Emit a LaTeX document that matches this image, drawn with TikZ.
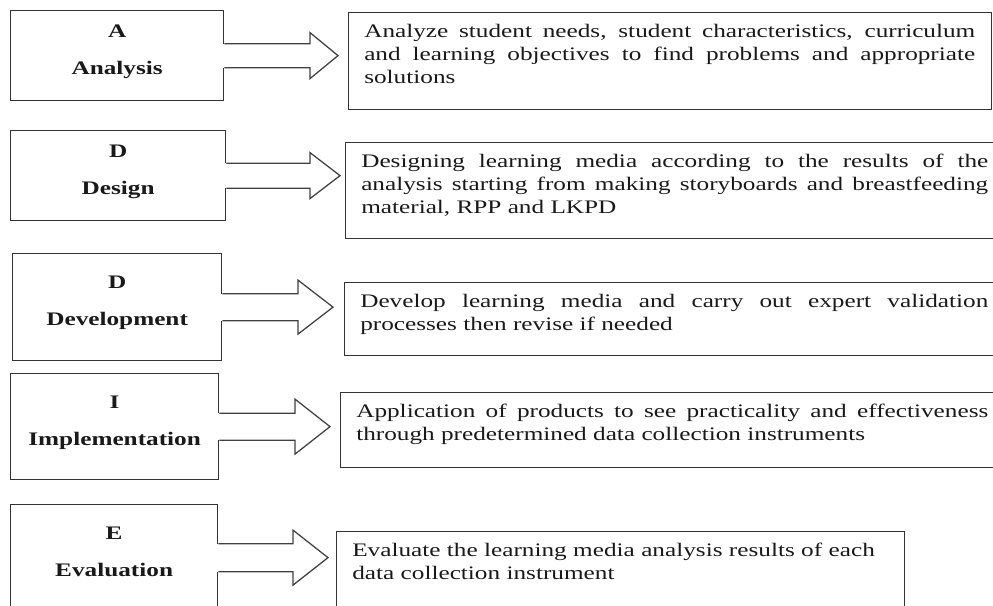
\documentclass[tikz,border=0pt]{standalone}
\usepackage{fontspec}
\setmainfont{Liberation Serif}[FakeStretch=1.32]
\usetikzlibrary{calc, positioning}

\tikzset{
  stagebox/.style 2 args={draw=black!80, line width=0.9pt, anchor=north west,
    inner sep=0pt, minimum width=#1cm, minimum height=#2cm},
  stagelabel/.style={font=\bfseries\fontsize{13.6}{26.2}\selectfont, align=center,
    text=black!90, inner sep=0pt},
  tasktext/.style={font=\fontsize{13.6}{16.4}\selectfont, align=justify,
    text=black!90, anchor=north west, inner sep=0pt},
  flowarrow/.style={draw=black!75, line width=0.9pt}
}

% block arrow out of a stage box: src, dst, shaft half, head half, head length, gap
\newcommand{\stagearrow}[6]{%
  \fill[white] ($(#1.east)+(-0.05,#3)$) rectangle ($(#1.east)+(0.05,-#3)$);
  \draw[flowarrow] let \p1=(#1.east), \p2=(#2.west) in
    (\x1,\y1+#3cm) -- (\x2-#6cm-#5cm,\y1+#3cm) -- (\x2-#6cm-#5cm,\y1+#4cm)
    -- (\x2-#6cm,\y1) -- (\x2-#6cm-#5cm,\y1-#4cm) -- (\x2-#6cm-#5cm,\y1-#3cm)
    -- (\x1,\y1-#3cm);
}

\begin{document}
\begin{tikzpicture}
  \useasboundingbox (0,0) rectangle (24.825,-15.125);
  \clip (0,0) rectangle (24.825,-15.125);

  % stage boxes
  \node[stagebox={5.325}{2.25}]  (s1) at (0.25,-0.25) {};
  \node[stagebox={5.375}{2.25}]  (s2) at (0.25,-3.25) {};
  \node[stagebox={5.225}{2.675}] (s3) at (0.3,-6.325) {};
  \node[stagebox={5.2}{2.65}]    (s4) at (0.25,-9.325) {};
  \node[stagebox={5.175}{2.65}]  (s5) at (0.25,-12.6) {};

  \node[stagelabel] (l1) at ([yshift=0.1cm]s1.center) {A\\Analysis};
  \node[stagelabel] (l2) at ([yshift=0.1cm]s2.center) {D\\Design};
  \node[stagelabel] (l3) at ([yshift=0.1cm]s3.center) {D\\Development};
  \node[stagelabel] (l4) at ([yshift=0.1cm]s4.center) {I\\Implementation};
  \node[stagelabel] (l5) at ([yshift=0.1cm]s5.center) {E\\Evaluation\vphantom{p}};

  % task boxes
  \node[stagebox={16.075}{2.425}] (r1) at (8.7,-0.3) {};
  \node[stagebox={16.475}{2.4}]   (r2) at (8.625,-3.55) {};
  \node[stagebox={16.5}{1.825}]   (r3) at (8.6,-7.05) {};
  \node[stagebox={16.6}{1.875}]   (r4) at (8.5,-9.8) {};
  \node[stagebox={14.2}{2.0}]     (r5) at (8.4,-13.275) {};

  \node[tasktext, text width=15.275cm] (t1) at ([xshift=0.4cm, yshift=-0.3cm]r1.north west)
    {Analyze student needs, student characteristics, curriculum\linebreak
     and learning objectives to find problems and appropriate\linebreak solutions};
  \node[tasktext, text width=15.675cm] (t2) at ([xshift=0.4cm, yshift=-0.3cm]r2.north west)
    {Designing learning media according to the results of the\linebreak
     analysis starting from making storyboards and breastfeeding\linebreak
     material, RPP and LKPD};
  \node[tasktext, text width=15.7cm] (t3) at ([xshift=0.4cm, yshift=-0.3cm]r3.north west)
    {Develop learning media and carry out expert validation\linebreak
     processes then revise if needed};
  \node[tasktext, text width=15.8cm] (t4) at ([xshift=0.4cm, yshift=-0.3cm]r4.north west)
    {Application of products to see practicality and effectiveness\linebreak
     through predetermined data collection instruments};
  \node[tasktext, align=left, text width=13.4cm] (t5) at ([xshift=0.4cm, yshift=-0.3cm]r5.north west)
    {Evaluate the learning media analysis results of each\\
     data collection instrument};

  % arrows
  \stagearrow{s1}{r1}{0.3}{0.575}{0.7}{0.25}
  \stagearrow{s2}{r2}{0.3125}{0.575}{0.75}{0.125}
  \stagearrow{s3}{r3}{0.3375}{0.675}{0.875}{0.275}
  \stagearrow{s4}{r4}{0.3375}{0.6875}{0.875}{0.25}
  \stagearrow{s5}{r5}{0.35}{0.6875}{0.875}{0.2}
\end{tikzpicture}
\end{document}
